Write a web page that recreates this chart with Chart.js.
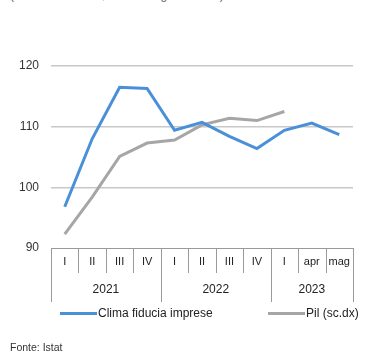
<!DOCTYPE html>
<html>
<head>
<meta charset="utf-8">
<script src="https://cdn.jsdelivr.net/npm/chart.js@4"></script>
<style>
  html, body { margin: 0; padding: 0; background: #fff; }
  #wrap { position: relative; width: 366px; height: 356px; overflow: hidden; font-family: "Liberation Sans", Arial, sans-serif; }
  #c { position: absolute; left: 0; top: 0; }
  .note { position: absolute; left: 10px; top: -12px; font-size: 12px; color: #666; white-space: nowrap; }
  .leg { position: absolute; top: 306px; font-size: 12px; color: #222; display: flex; align-items: center; white-space: nowrap; }
  .leg i { display: inline-block; width: 37px; height: 3px; margin-right: 1px; }
  .src { position: absolute; left: 10px; top: 341px; font-size: 10.5px; color: #333; }
</style>
</head>
<body>
<div id="wrap">
  <div class="note">(indici: 2015=100; dati destagionalizzati)</div>
  <canvas id="c" width="366" height="356"></canvas>
  <div class="leg" style="left:60px"><i style="background:#4a90d9"></i>Clima fiducia imprese</div>
  <div class="leg" style="left:268px"><i style="background:#a6a6a6"></i>Pil (sc.dx)</div>
  <div class="src">Fonte: Istat</div>
</div>
<script>
// Periods on the horizontal axis
const periods = ['I', 'II', 'III', 'IV', 'I', 'II', 'III', 'IV', 'I', 'apr', 'mag'];
const yearLabels = ['2021', '2022', '2023'];
const yearSpans = [4, 4, 3];

// Series
const climaFiducia = [96.8, 108.0, 116.5, 116.3, 109.4, 110.7, 108.4, 106.4, 109.4, 110.6, 108.7];
const pil = [92.3, 98.4, 105.1, 107.3, 107.8, 110.3, 111.4, 111.0, 112.5, null, null];

// Left axis ticks
const yMin = 90, yMax = 120, yStep = 10;

// Draws the two-level category table under the plot
const periodTable = {
  id: 'periodTable',
  afterDraw(chart) {
    const ctx = chart.ctx;
    const x = chart.scales.x;
    const top = chart.chartArea.bottom;
    const half = (x.getPixelForValue(1) - x.getPixelForValue(0)) / 2;
    const rowH = 25, fullH = 54;
    const n = periods.length;
    ctx.save();
    ctx.strokeStyle = '#9a9a9a';
    ctx.lineWidth = 1;
    const left = x.getPixelForValue(0) - half;
    const right = x.getPixelForValue(n - 1) + half;
    ctx.beginPath();
    ctx.moveTo(left, top + 0.5);
    ctx.lineTo(right, top + 0.5);
    ctx.stroke();

    // year boundaries
    const yearEdges = new Set([0]);
    let acc = 0;
    yearSpans.forEach(s => { acc += s; yearEdges.add(acc); });

    for (let i = 0; i <= n; i++) {
      const px = Math.round(i < n ? x.getPixelForValue(i) - half : x.getPixelForValue(n - 1) + half) + 0.5;
      ctx.beginPath();
      ctx.moveTo(px, top);
      ctx.lineTo(px, top + (yearEdges.has(i) ? fullH : rowH));
      ctx.stroke();
    }

    ctx.fillStyle = '#222';
    ctx.textAlign = 'center';
    ctx.textBaseline = 'middle';
    ctx.font = '11px "Liberation Sans", Arial, sans-serif';
    periods.forEach((p, i) => {
      ctx.fillText(p, x.getPixelForValue(i), top + 14);
    });
    ctx.font = '12px "Liberation Sans", Arial, sans-serif';
    let start = 0;
    yearLabels.forEach((y, k) => {
      const end = start + yearSpans[k] - 1;
      const cx = (x.getPixelForValue(start) + x.getPixelForValue(end)) / 2;
      ctx.fillText(y, cx, top + 42);
      start += yearSpans[k];
    });
    ctx.restore();
  }
};

new Chart(document.getElementById('c'), {
  type: 'line',
  data: {
    labels: periods,
    datasets: [
      {
        label: 'Clima fiducia imprese',
        data: climaFiducia,
        borderColor: '#4a90d9',
        borderWidth: 3,
        pointRadius: 0,
        tension: 0,
        yAxisID: 'y'
      },
      {
        label: 'Pil (sc.dx)',
        data: pil,
        borderColor: '#a6a6a6',
        borderWidth: 3,
        pointRadius: 0,
        tension: 0,
        yAxisID: 'y1'
      }
    ]
  },
  options: {
    responsive: false,
    animation: false,
    layout: { padding: { top: 66, left: 0, right: 13, bottom: 108 } },
    plugins: { legend: { display: false }, tooltip: { enabled: false } },
    scales: {
      x: {
        display: false,
        offset: true
      },
      y: {
        position: 'left',
        min: yMin,
        max: yMax,
        ticks: {
          stepSize: yStep,
          color: '#333',
          padding: 12,
          font: { family: '"Liberation Sans", Arial, sans-serif', size: 12 }
        },
        grid: {
          color: ctx => ctx.tick && ctx.tick.value === yMin ? 'rgba(0,0,0,0)' : '#c8c8c8',
          lineWidth: 1.5,
          drawTicks: false
        },
        border: { display: false },
        afterFit(scale) { scale.width = 51; }
      },
      y1: {
        position: 'right',
        display: false,
        min: yMin,
        max: yMax
      }
    }
  },
  plugins: [periodTable]
});
</script>
</body>
</html>
